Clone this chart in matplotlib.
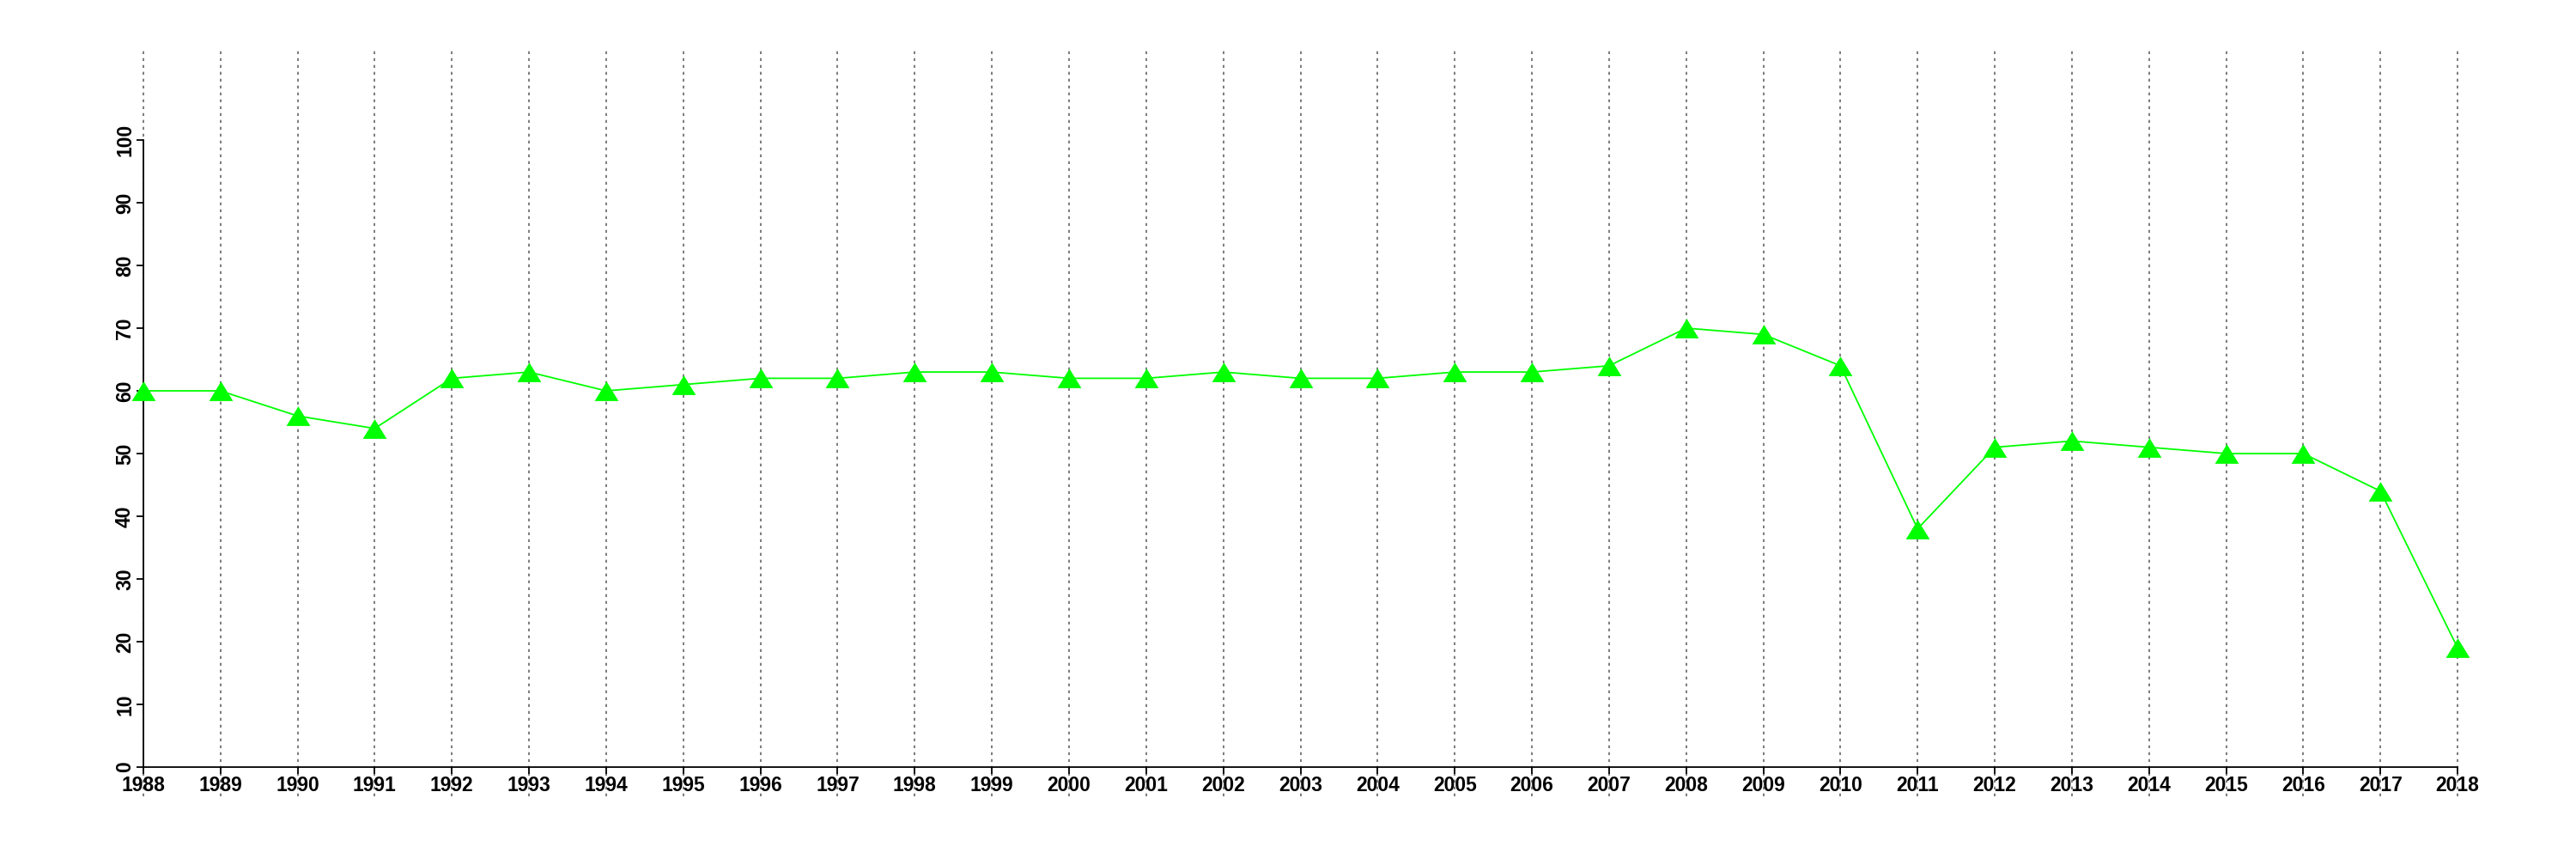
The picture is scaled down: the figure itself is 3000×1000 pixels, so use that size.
import matplotlib
matplotlib.use("Agg")
import matplotlib.pyplot as plt

# Datos
years = list(range(1988, 2019))
values = [60, 60, 56, 54, 62, 63, 60, 61, 62, 62, 63, 63, 62, 62, 63, 62,
          62, 63, 63, 64, 70, 69, 64, 38, 51, 52, 51, 50, 50, 44, 19]
yticks = list(range(0, 101, 10))

plt.rcParams['font.family'] = ['Liberation Sans', 'DejaVu Sans']

# Triángulo un poco achatado, como el pch=17 de R
tri = [(-1, -0.82), (1, -0.82), (0, 0.82), (-1, -0.82)]

fig = plt.figure(figsize=(30, 10), dpi=100)
ax = fig.add_axes([77 / 3000, 0.073, (2952 - 77) / 3000, 0.868])
ax.set_xlim(1987, 2019)
ax.set_ylim(-4.66, 114.25)

# Líneas verticales punteadas
for yr in years:
    ax.axvline(yr, color="#666666", linewidth=1.2, linestyle=(0, (2, 2.8)), zorder=1)

ax.plot(years, values, color="#00ff00", linewidth=1.3, marker=tri,
        markersize=20, markeredgewidth=0, clip_on=False, zorder=3)

for side in ["top", "right"]:
    ax.spines[side].set_visible(False)
ax.spines["left"].set_bounds(0, 100)
ax.spines["left"].set_position(("data", 1988))
ax.spines["bottom"].set_bounds(1988, 2018)
ax.spines["bottom"].set_position(("data", 0))
for side in ["left", "bottom"]:
    ax.spines[side].set_linewidth(1.3)

ax.set_xticks(years)
ax.set_xticklabels([str(y) for y in years], fontsize=16.5, fontweight="bold")
ax.set_yticks(yticks)
ax.set_yticklabels([str(v) for v in yticks], fontsize=16.5, fontweight="bold",
                   rotation=90, va="center")
ax.tick_params(axis="both", length=5.5, width=1.3, pad=1.5)

fig.savefig("out.png", dpi=100)
